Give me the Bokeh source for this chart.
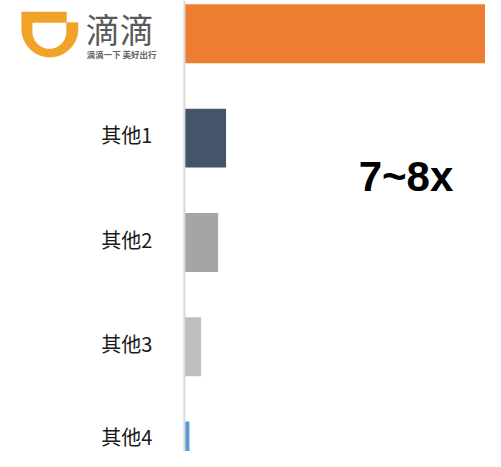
import numpy as np
from bokeh.plotting import figure
from bokeh.models import ColumnDataSource, Range1d, Span
from bokeh.core.properties import value
from bokeh.embed import file_html
from bokeh.resources import INLINE

# ---- data ----
categories = ["滴滴", "其他1", "其他2", "其他3", "其他4"]
values = [750, 100, 81, 40, 12]
colors = ["#ed7d31", "#44546a", "#a5a5a5", "#bfbfbf", "#5b9bd5"]
logo_title = "滴滴"
logo_slogan = "滴滴一下 美好出行"
ratio_label = "7~8x"

W, H = 485, 451
RW, RH = 501, 467          # design space
S = W / RW                 # font scale
idx = list(range(len(categories)))
Y0, Y1 = -0.3194, 4.0046

p = figure(width=W, height=H, output_backend="svg", toolbar_location=None,
           x_range=Range1d(-441.86, 723.26), y_range=Range1d(Y1, Y0),
           min_border=0, outline_line_color=None)
p.axis.visible = False
p.grid.visible = False
p.background_fill_color = "white"
p.border_fill_color = "white"

# design-space ranges for decorations (logo, annotation)
p.extra_x_ranges = {"px": Range1d(0, RW)}
p.extra_y_ranges = {"px": Range1d(RH, 0)}

src = ColumnDataSource(dict(y=idx, v=values, c=colors, cat=categories))
p.hbar(y="y", left=0, right="v", height=0.565, fill_color="c", line_color=None, source=src)

# axis line
p.add_layout(Span(location=0, dimension="height", line_color="#d9d9d9", line_width=2))

# category labels (first category is shown as the logo); keep each label inside the frame
fs = 20
dy = []
for i in idx[1:]:
    cpx = (i - Y0) / (Y1 - Y0) * H
    dy.append(min(-3.4 * S, H - 0.73 * fs - cpx))
lab = ColumnDataSource(dict(y=idx[1:], t=categories[1:], x=[0] * len(dy), dy=dy))
p.text(x="x", y="y", text="t", source=lab, x_offset=-32, y_offset="dy",
       text_align="right", text_baseline="middle",
       text_font=value("Noto Sans CJK SC"), text_font_size=f"{fs}px", text_color="#1a1a1a")

# ---- logo (design pixel coords) ----
a = np.linspace(0, np.pi, 40)
cx, cy, r = 51, 29.5, 29
oxs = [22, 68, 68, 80] + list(cx + r * np.cos(a)) + [22]
oys = [12, 12, 23, 23] + list(cy + r * np.sin(a)) + [12]
p.patch(oxs, oys, fill_color="#f1a329", line_color="#ea9a22", line_width=0.6,
        x_range_name="px", y_range_name="px")
icx, icy, ir = 50.5, 32.5, 17.5
ixs = [33, 68] + list(icx + ir * np.cos(a))
iys = [23, 23] + list(icy + ir * np.sin(a))
p.patch(ixs, iys, fill_color="white", line_color=None, x_range_name="px", y_range_name="px")

p.text(x=[88], y=[28.5], text=[logo_title], text_align="left", text_baseline="middle",
       text_font=value("Noto Sans CJK SC"), text_font_size="34px", text_color="#5a5a5a",
       x_range_name="px", y_range_name="px")
p.text(x=[89], y=[55], text=[logo_slogan], text_align="left", text_baseline="middle",
       text_font=value("Noto Sans CJK SC"), text_font_size="8.5px", text_font_style="bold",
       text_color="#666666", x_range_name="px", y_range_name="px")

# ratio annotation
p.text(x=[370], y=[182], text=[ratio_label], text_align="left", text_baseline="middle",
       text_font=value("Liberation Sans"), text_font_size="42px", text_font_style="bold",
       text_color="#000000", x_range_name="px", y_range_name="px")

open("out.html", "w").write(file_html(p, INLINE))
